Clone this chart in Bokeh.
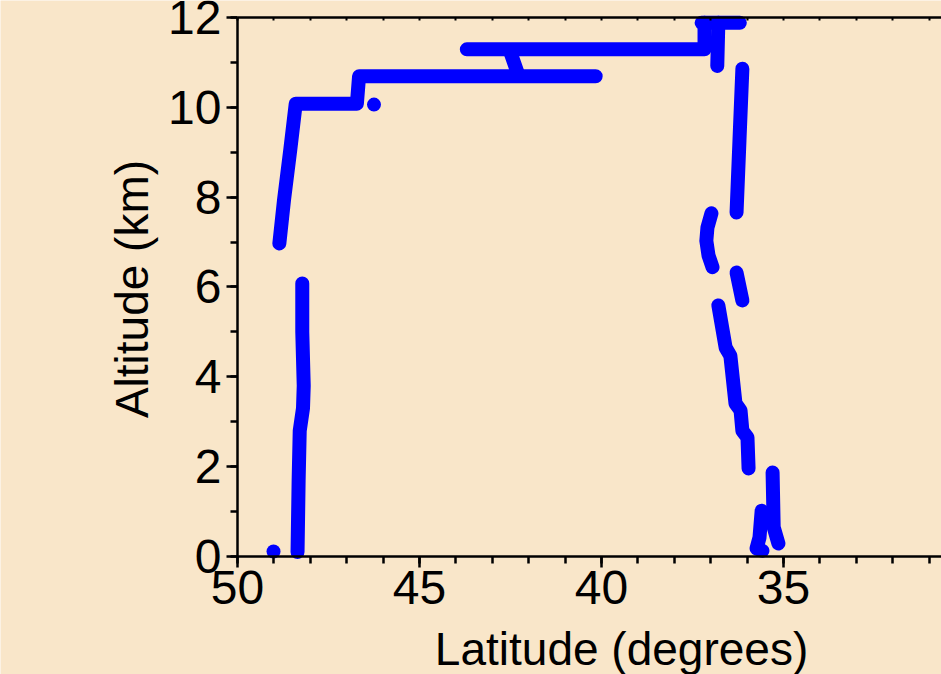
import math
from bokeh.plotting import figure
from bokeh.models import Range1d, LinearAxis, SingleIntervalTicker, FixedTicker, Label
from bokeh.embed import file_html
from bokeh.resources import INLINE

# ---- data (latitude in degrees, altitude in km) ----
dot_a_lat = [49.01]
dot_a_alt = [0.11]

low_left_lat = [48.35, 48.32, 48.29, 48.20, 48.18, 48.22, 48.22]
low_left_alt = [0.10, 1.70, 2.80, 3.30, 3.80, 5.00, 6.08]

upper_left_lat = [48.85, 48.72, 48.55, 48.40, 46.72, 46.66, 42.35, 40.16]
upper_left_alt = [6.97, 7.95, 9.05, 10.08, 10.08, 10.69, 10.69, 10.69]

dot_b_lat = [46.25]
dot_b_alt = [10.06]

link_lat = [42.50, 42.31]
link_alt = [11.22, 10.78]

level_11_lat = [43.70, 37.17, 37.17]
level_11_alt = [11.29, 11.29, 11.88]

level_12_lat = [37.25, 36.20]
level_12_alt = [11.88, 11.88]

stub_lat = [36.79, 36.82]
stub_alt = [11.88, 10.92]

desc_a_lat = [36.13, 36.21, 36.29]
desc_a_alt = [10.86, 9.26, 7.66]

desc_b_lat = [36.98, 37.09, 37.12, 37.06, 36.95]
desc_b_alt = [7.64, 7.32, 7.03, 6.70, 6.44]

desc_c_lat = [36.29, 36.13]
desc_c_alt = [6.32, 5.70]

desc_d_lat = [36.79, 36.59, 36.46, 36.32, 36.18, 36.13, 35.99, 35.96]
desc_d_alt = [5.59, 4.65, 4.47, 3.41, 3.25, 2.80, 2.65, 1.96]

desc_e_lat = [35.30, 35.27, 35.14]
desc_e_alt = [1.87, 0.65, 0.29]

desc_f_lat = [35.60, 35.66, 35.74, 35.58]
desc_f_alt = [1.02, 0.42, 0.18, 0.13]

segments = [
    (low_left_lat, low_left_alt),
    (upper_left_lat, upper_left_alt),
    (link_lat, link_alt),
    (level_11_lat, level_11_alt),
    (level_12_lat, level_12_alt),
    (stub_lat, stub_alt),
    (desc_a_lat, desc_a_alt),
    (desc_b_lat, desc_b_alt),
    (desc_c_lat, desc_c_alt),
    (desc_d_lat, desc_d_alt),
    (desc_e_lat, desc_e_alt),
    (desc_f_lat, desc_f_alt),
]
dots = [(dot_a_lat, dot_a_alt), (dot_b_lat, dot_b_alt)]

x_title = "Latitude (degrees)"
y_title = "Altitude (km)"
lat_bounds = (30.66, 50)
alt_bounds = (0, 12)
top_tick_marks = list(range(31, 51))

BG = "#F9E6C9"
FONT = "Liberation Sans"
TICK_FS = "48px"
TITLE_FS = "46px"

# the frame covers the whole canvas; axes are pinned at lat 50 / alt 0 / alt 12
p = figure(width=941, height=674,
           x_range=Range1d(56.51, 30.66), y_range=Range1d(-2.627, 12.378),
           output_backend="svg", toolbar_location=None,
           min_border=0, min_border_left=0, min_border_right=0,
           min_border_top=0, min_border_bottom=0,
           background_fill_color=BG, border_fill_color=BG,
           outline_line_color=None)
p.grid.visible = False

p.xaxis.ticker = SingleIntervalTicker(interval=5, num_minor_ticks=5)
p.yaxis.ticker = SingleIntervalTicker(interval=2, num_minor_ticks=2)
p.xaxis.fixed_location = 0
p.yaxis.fixed_location = 50
p.xaxis.bounds = lat_bounds
p.yaxis.bounds = alt_bounds

for ax in (p.xaxis[0], p.yaxis[0]):
    ax.axis_line_width = 2.5
    ax.axis_line_color = "black"
    ax.major_tick_line_width = 2.5
    ax.minor_tick_line_width = 2.5
    ax.major_tick_line_color = "black"
    ax.minor_tick_line_color = "black"
    ax.major_tick_in = 0
    ax.major_tick_out = 11
    ax.minor_tick_in = 0
    ax.minor_tick_out = 7
    ax.major_label_text_font = FONT
    ax.major_label_text_font_size = TICK_FS
    ax.major_label_text_color = "black"

p.xaxis.major_label_standoff = 4
p.yaxis.major_label_standoff = 5

top = LinearAxis(ticker=FixedTicker(ticks=[], minor_ticks=top_tick_marks),
                 fixed_location=12, bounds=lat_bounds,
                 axis_line_width=2.5, axis_line_color="black",
                 major_tick_in=0, major_tick_out=0, minor_tick_in=3, minor_tick_out=0,
                 minor_tick_line_width=2, minor_tick_line_color="black")
p.add_layout(top, "above")

for lat, alt in segments:
    p.line(lat, alt, line_width=14, line_color="#0000FF",
           line_cap="round", line_join="round")
for lat, alt in dots:
    p.scatter(lat, alt, size=14, fill_color="#0000FF", line_color=None)

p.add_layout(Label(x=39.45, y=-2.05, text=x_title,
                   text_align="center", text_baseline="alphabetic",
                   text_font=FONT, text_font_size=TITLE_FS, text_color="black"))
p.add_layout(Label(x=52.885, y=5.955, text=y_title, angle=math.pi / 2,
                   text_align="center", text_baseline="alphabetic",
                   text_font=FONT, text_font_size=TITLE_FS, text_color="black"))

open("out.html", "w").write(file_html(p, INLINE))
